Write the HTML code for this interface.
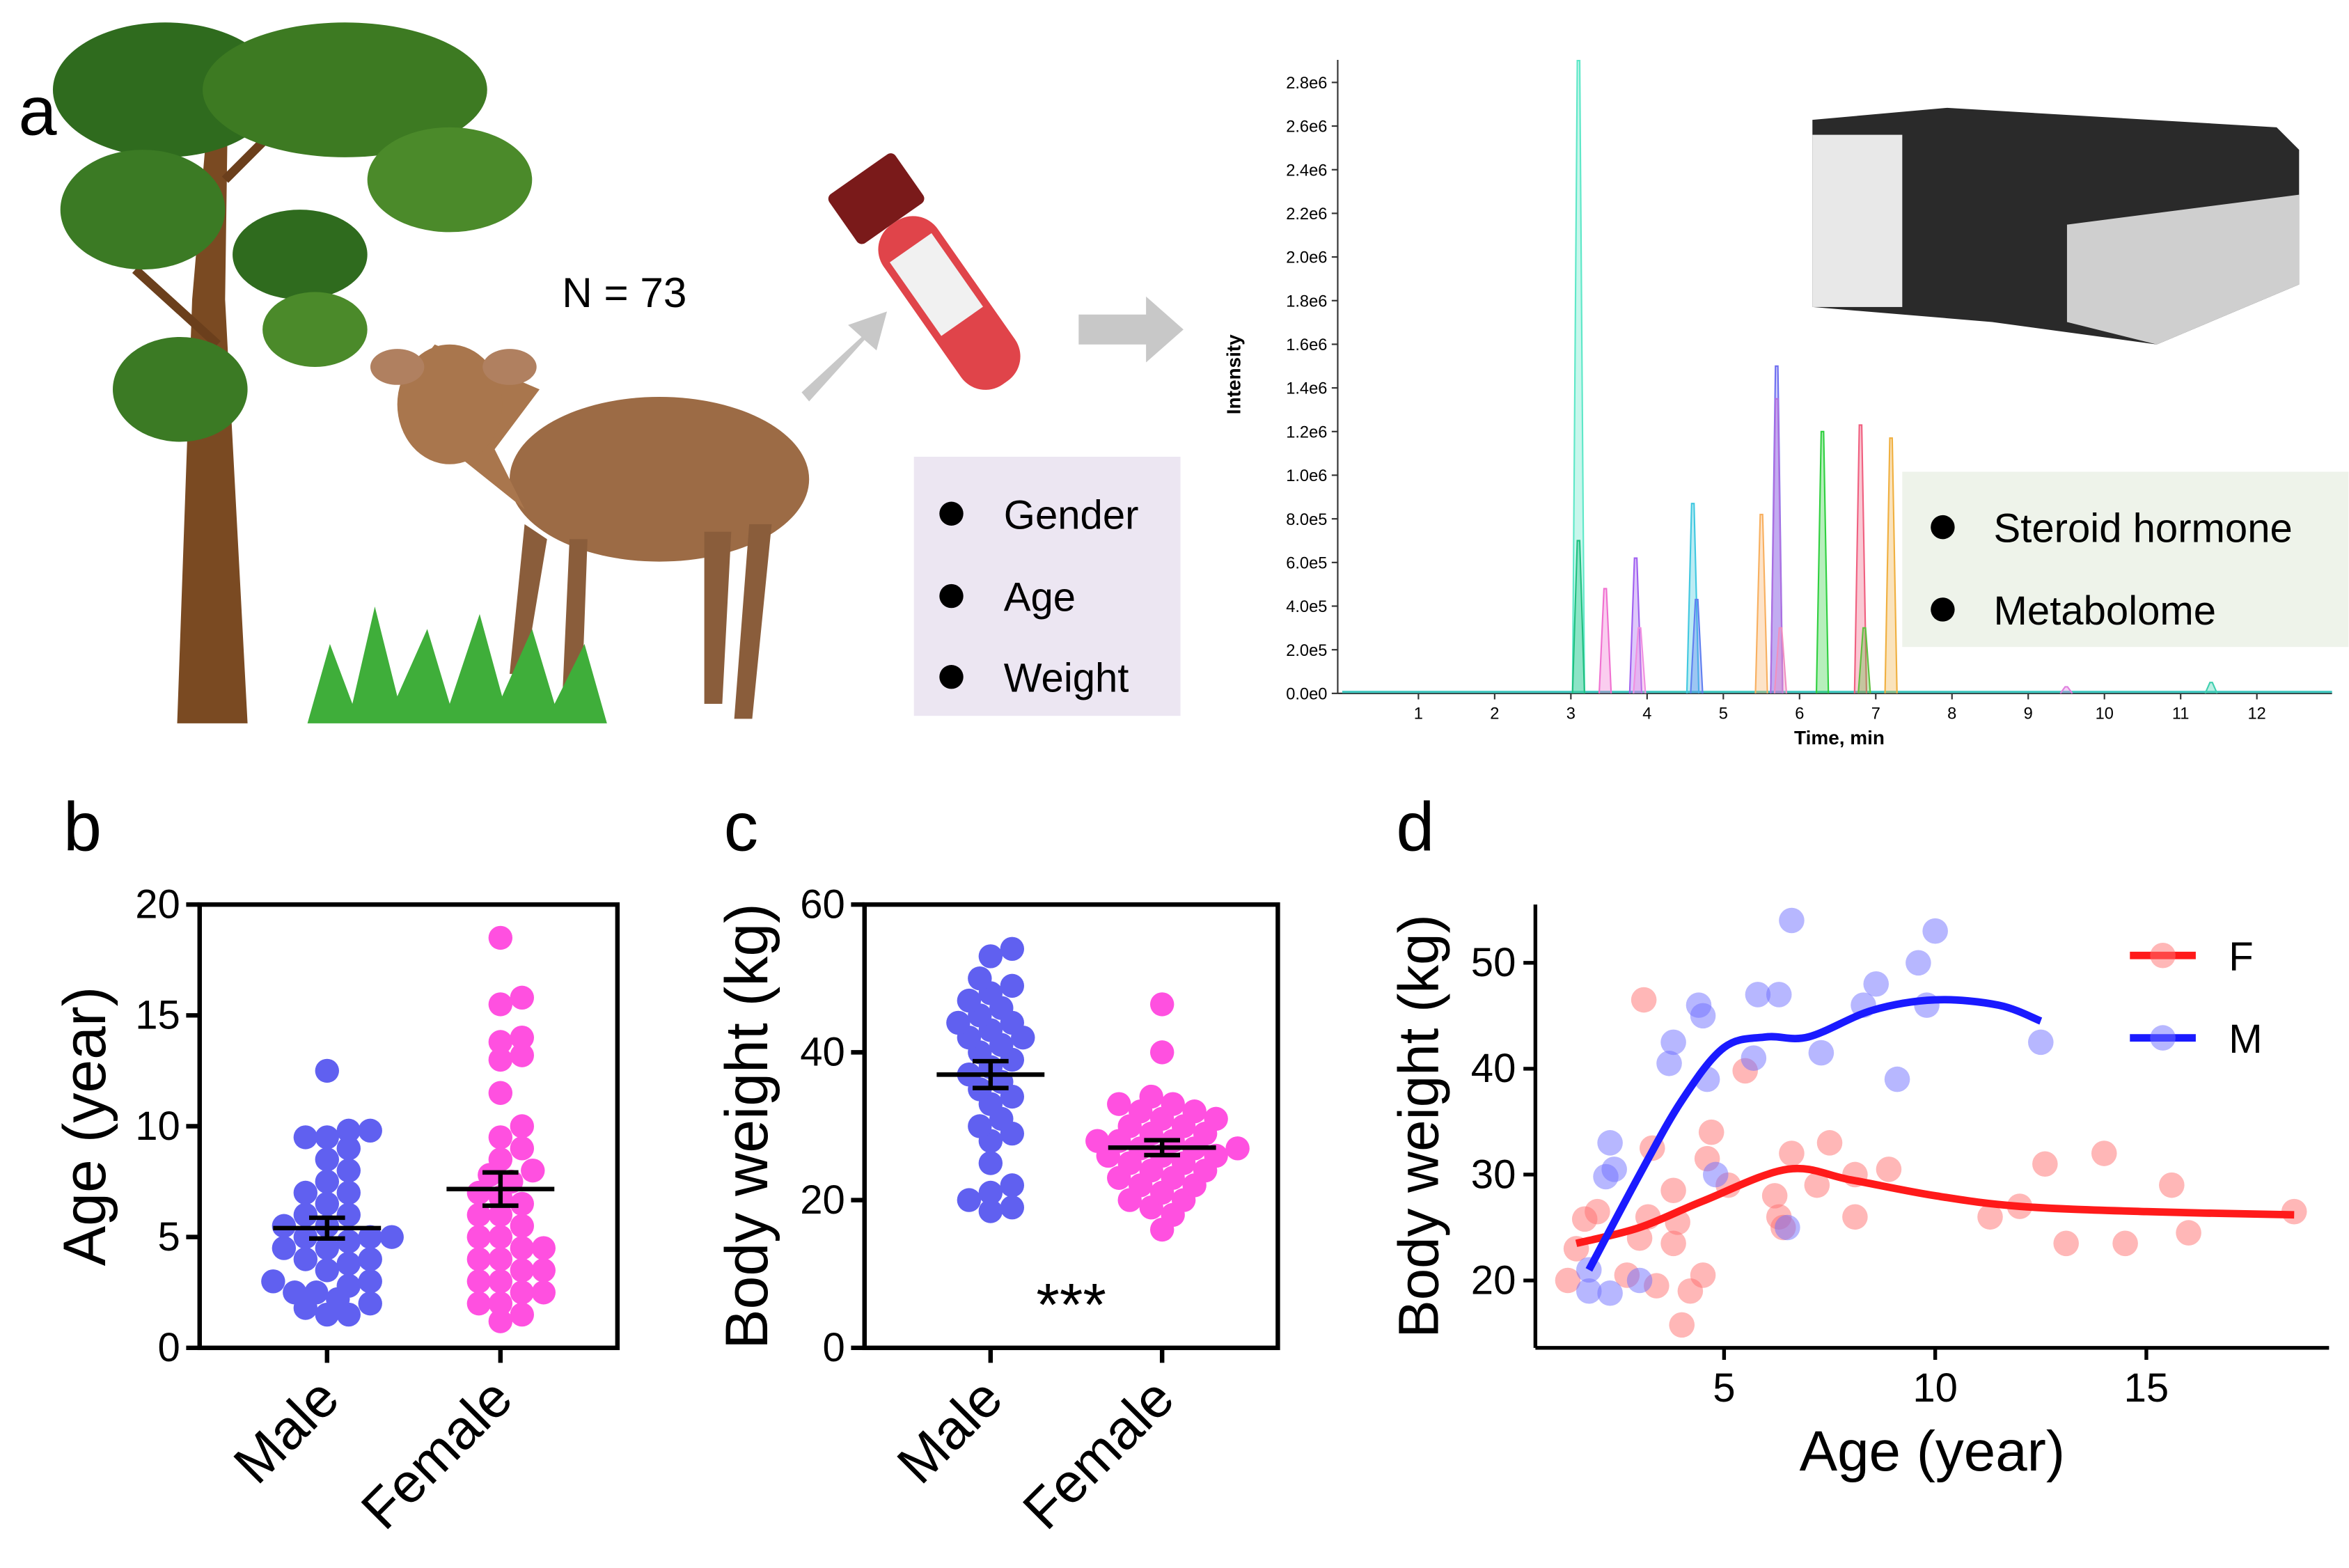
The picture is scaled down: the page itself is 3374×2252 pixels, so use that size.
<!DOCTYPE html>
<html><head><meta charset="utf-8"><style>
html,body{margin:0;padding:0;background:#fff}
svg{display:block;font-family:"Liberation Sans",Arial,sans-serif}
</style></head><body>
<svg id="fig" width="3374" height="2252" viewBox="0 0 1568 1047" xmlns="http://www.w3.org/2000/svg">
<rect width="1568" height="1047" fill="#fff"/>
<g>
<text x="12" y="90" font-size="46">a</text>
<g>
<path d="M118,483 L128,200 L140,60 L152,60 L150,200 L165,483 Z" fill="#7a4a22"/>
<path d="M140,160 L80,60 M150,120 L230,40 M145,230 L90,180" stroke="#6b3f1c" stroke-width="6"/>
<ellipse cx="110" cy="60" rx="75" ry="45" fill="#2f6b1e"/>
<ellipse cx="230" cy="60" rx="95" ry="45" fill="#3d7a22"/>
<ellipse cx="300" cy="120" rx="55" ry="35" fill="#4b8a2a"/>
<ellipse cx="95" cy="140" rx="55" ry="40" fill="#3b7a24"/>
<ellipse cx="200" cy="170" rx="45" ry="30" fill="#2f6b1e"/>
<ellipse cx="120" cy="260" rx="45" ry="35" fill="#3b7a24"/>
<ellipse cx="210" cy="220" rx="35" ry="25" fill="#4b8a2a"/>
</g>
<g>
<ellipse cx="440" cy="320" rx="100" ry="55" fill="#9c6b45"/>
<path d="M330,300 L360,260 L290,230 L270,255 L300,300 L350,340 Z" fill="#a9764d"/>
<ellipse cx="300" cy="270" rx="35" ry="40" fill="#a9764d"/>
<ellipse cx="265" cy="245" rx="18" ry="12" fill="#b08060"/>
<ellipse cx="340" cy="245" rx="18" ry="12" fill="#b08060"/>
<path d="M350,350 L340,450 L350,450 L365,360 Z M380,360 L375,470 L388,470 L392,360 Z M500,350 L490,480 L502,480 L515,350 Z M470,355 L470,470 L482,470 L488,355 Z" fill="#8a5d3b"/>
</g>
<g>
<path d="M205,483 L220,430 L235,470 L250,405 L265,465 L285,420 L300,470 L320,410 L335,465 L355,420 L370,470 L390,430 L405,483 Z" fill="#3fae3a"/>
</g>
<text x="375" y="205" font-size="28">N = 73</text>
<path d="M535,262 L575,225 L566,217 L592,208 L585,234 L577,227 L540,268 Z" fill="#c8c8c8"/>
<g transform="rotate(-35 625 190)">
<rect x="598" y="100" width="54" height="40" rx="4" fill="#7a1a1a"/>
<rect x="603" y="140" width="44" height="130" rx="20" fill="#e0444a"/>
<rect x="608" y="160" width="34" height="60" fill="#f1f1f1"/>
</g>
<path d="M720,210 L765,210 L765,198 L790,220 L765,242 L765,230 L720,230 Z" fill="#c8c8c8"/>
<rect x="610" y="305" width="178" height="173" fill="#ece6f2"/>
<g font-size="27">
<circle cx="635" cy="343" r="8"/><text x="670" y="353">Gender</text>
<circle cx="635" cy="398" r="8"/><text x="670" y="408">Age</text>
<circle cx="635" cy="452" r="8"/><text x="670" y="462">Weight</text>
</g>
<g>
<path d="M1210,80 L1300,72 L1520,85 L1535,100 L1535,190 L1440,230 L1330,215 L1210,205 Z" fill="#2a2a2a"/>
<rect x="1210" y="90" width="60" height="115" fill="#e8e8e8"/>
<path d="M1380,150 L1535,130 L1535,190 L1440,230 L1380,215 Z" fill="#cfcfcf"/>
</g>
<rect x="1270" y="315" width="298" height="117" fill="#eef3ea"/>
<g font-size="27">
<circle cx="1297" cy="352" r="8"/><text x="1331" y="362">Steroid hormone</text>
<circle cx="1297" cy="407" r="8"/><text x="1331" y="417">Metabolome</text>
</g>
<g id="chrom"></g>
</g>
<g>
<text x="42" y="568" font-size="46">b</text>
<g id="pb"></g>
</g>
<g>
<text x="483" y="568" font-size="46">c</text>
<g id="pc"></g>
</g>
<g>
<text x="932" y="568" font-size="46">d</text>
<g id="pd"></g>
</g>
</svg>
<script>
const chromTimes=[3.1,3.1,3.45,3.85,3.9,4.6,4.65,5.5,5.7,5.7,5.75,6.3,6.8,6.85,7.2,9.5,11.4];
const chromHeights=[2.9,0.7,0.48,0.62,0.3,0.87,0.43,0.82,1.5,1.35,0.3,1.2,1.23,0.3,1.17,0.03,0.05];
const chromColors=["#5fe8c8","#20c080","#f070d0","#a060f0","#f090e0","#40c8e0","#6080f0","#f8b060","#7070f0","#b070e0","#f090c0","#30d040","#f06080","#60c040","#f0b040","#e080e0","#40d0b0"];
const chromYTicks=["0.0e0","2.0e5","4.0e5","6.0e5","8.0e5","1.0e6","1.2e6","1.4e6","1.6e6","1.8e6","2.0e6","2.2e6","2.4e6","2.6e6","2.8e6"];
const chromXTicks=[1,2,3,4,5,6,7,8,9,10,11,12];
const ageMale=[12.5,9.8,9.8,9.5,9.5,9,8.5,8,7.5,7,7,6.5,6,6,5.5,5.5,5,5,5,4.8,4.5,4.5,4,4,3.8,3.5,3,3,2.8,2.5,2.5,2.2,2,1.8,1.5,1.5];
const ageFemale=[18.5,15.8,15.5,14,13.8,13.2,13,11.5,10,9.5,9,8.5,8,7.8,7.5,7,6.8,6.5,6,6,5.5,5,5,4.5,4.5,4,4,3.5,3.5,3,3,2.5,2.5,2,2,1.5,1.2];
const wMale=[54,53,50,49,48,47,46,45,44,44,43,42,42,41,40,39,38,37,36,35,34,33,31,30,29,28,25,22,21,20,19,18.5];
const wFemale=[46.5,40,34,33,33,32,32,31,31,30,30,29,29,28,28,28,27,27,27,26,26,26,25,25,24,24,23,23,22,22,21,20,20,19,18,16];
const dMaleAge=[1.8,1.8,2.3,2.2,2.4,2.3,3,3.7,3.8,4.4,4.5,4.6,4.8,5.8,5.7,6.3,6.6,6.5,7.3,8.3,8.6,9.1,9.6,9.8,10,12.5];
const dMaleW=[19,21,18.8,29.8,30.5,33,20,40.5,42.5,46,45,39,30,47,41,47,54,25,41.5,46,48,39,50,46,53,42.5];
const dFemAge=[1.3,1.5,1.7,2,3.1,3,3.2,3.4,2.7,3.3,3.8,3.8,3.9,4,4.2,4.5,4.6,4.7,5.1,5.5,6.2,6.3,6.6,6.4,7.2,7.5,8.1,8.1,8.9,11.3,12,12.6,13.1,14,14.5,15.6,16,18.5];
const dFemW=[20,23,25.8,26.5,46.5,24,26,19.5,20.5,32.5,28.5,23.5,25.5,15.8,19,20.5,31.5,34,29,39.8,28,26,32,25,29,33,26,30,30.5,26,27,31,23.5,32,23.5,29,24.5,26.5];
const fitFAge=[1.5,3,4.5,6.5,8,10,12,15,18.5];
const fitFW=[23.5,25,27.5,30.5,29.5,28,27,26.5,26.2];
const fitMAge=[1.8,3,4,5,6,7,8.5,10,11.5,12.5];
const fitMW=[21,30,37,42,43,43,45.5,46.5,46,44.5];

const NS="http://www.w3.org/2000/svg";
function mk(p,tag,at){const e=document.createElementNS(NS,tag);for(const k in at)e.setAttribute(k,at[k]);p.appendChild(e);return e;}
function mean(a){return a.reduce((s,v)=>s+v,0)/a.length;}
function sem(a){const m=mean(a);return Math.sqrt(a.reduce((s,v)=>s+(v-m)*(v-m),0)/(a.length-1))/Math.sqrt(a.length);}

(function(){
const g=document.getElementById('chrom');
const x=t=>896+t*50.9, y=v=>463-v/0.2*29.14;
let e=mk(g,'line',{x1:893,y1:40,x2:893,y2:463,stroke:'#333','stroke-width':1});

e=mk(g,'line',{x1:893,y1:463,x2:1557,y2:463,stroke:'#333','stroke-width':1});

chromYTicks.forEach((s,i)=>{const yy=y(i*0.2);
 mk(g,'line',{x1:889,y1:yy,x2:893,y2:yy,stroke:'#333'});
 const t=mk(g,'text',{x:886,y:yy+4,'font-size':11,'text-anchor':'end'});t.textContent=s;
 });
chromXTicks.forEach(v=>{const xx=x(v);
 mk(g,'line',{x1:xx,y1:463,x2:xx,y2:467,stroke:'#333'});
 const t=mk(g,'text',{x:xx,y:480,'font-size':11,'text-anchor':'middle'});t.textContent=v;
 });
let t=mk(g,'text',{x:1228,y:497,'font-size':13,'font-weight':'bold','text-anchor':'middle'});t.textContent='Time, min';

t=mk(g,'text',{x:828,y:250,'font-size':13,'font-weight':'bold','text-anchor':'middle',transform:'rotate(-90 828 250)'});t.textContent='Intensity';

mk(g,'line',{x1:896,y1:462,x2:1557,y2:462,stroke:'#40c8c0','stroke-width':1.5});
chromTimes.forEach((tm,i)=>{const xx=x(tm),yy=y(chromHeights[i]);
 const p=mk(g,'path',{d:`M${xx-4},463 L${xx-0.8},${yy} L${xx+0.8},${yy} L${xx+4},463`,fill:chromColors[i],'fill-opacity':0.35,stroke:chromColors[i],'stroke-width':1});
 });
})();

function dotPanel(id,box,ymax,ystep,groups,colors,title,extra,titleX){
 const g=document.getElementById(id);
 const [x0,y0,x1,y1]=box;
 const y=v=>y1-(v/ymax)*(y1-y0);
 let e=mk(g,'rect',{x:x0,y:y0,width:x1-x0,height:y1-y0,fill:'none',stroke:'#000','stroke-width':3});
 
 for(let v=0;v<=ymax;v+=ystep){const yy=y(v);
  mk(g,'line',{x1:x0-9,y1:yy,x2:x0,y2:yy,stroke:'#000','stroke-width':3});
  const t=mk(g,'text',{x:x0-13,y:yy+9,'font-size':27,'text-anchor':'end'});t.textContent=v;
  }
 const cx=[x0+(x1-x0)*0.305,x0+(x1-x0)*0.72];
 const names=['Male','Female'];
 groups.forEach((arr,gi)=>{
  mk(g,'line',{x1:cx[gi],y1:y1,x2:cx[gi],y2:y1+10,stroke:'#000','stroke-width':3});
  const t=mk(g,'text',{x:cx[gi]+10,y:y1+36,'font-size':37,'text-anchor':'end',transform:`rotate(-45 ${cx[gi]+10} ${y1+36})`});t.textContent=names[gi];
  
  const placed=[];const r=8;const md=r*1.35;
  [...arr].sort((a,b)=>a-b).forEach(v=>{const yy=y(v);let off=0;
   for(let k=0;k<40;k++){const cand=k===0?0:(k%2?1:-1)*Math.ceil(k/2)*r*0.9;
    if(placed.every(p=>(p[0]-cand)**2+(p[1]-yy)**2>=md*md)){off=cand;break;}}
   placed.push([off,yy]);
   const c=mk(g,'circle',{cx:cx[gi]+off,cy:yy,r:r,fill:colors[gi]});
   });
  const m=mean(arr),s=sem(arr);
  const ln=mk(g,'line',{x1:cx[gi]-36,y1:y(m),x2:cx[gi]+36,y2:y(m),stroke:'#000','stroke-width':3});
  
  mk(g,'line',{x1:cx[gi],y1:y(m+s),x2:cx[gi],y2:y(m-s),stroke:'#000','stroke-width':3});
  mk(g,'line',{x1:cx[gi]-12,y1:y(m+s),x2:cx[gi]+12,y2:y(m+s),stroke:'#000','stroke-width':3});
  mk(g,'line',{x1:cx[gi]-12,y1:y(m-s),x2:cx[gi]+12,y2:y(m-s),stroke:'#000','stroke-width':3});
 });
 const tx=titleX,ty=(y0+y1)/2;
 const t=mk(g,'text',{x:tx,y:ty,'font-size':40,'text-anchor':'middle',transform:`rotate(-90 ${tx} ${ty})`});t.textContent=title;
 
 if(extra){const s=mk(g,'text',{x:(x0+x1)/2,y:885,'font-size':40,'text-anchor':'middle'});s.textContent=extra;
  }
}
dotPanel('pb',[133,604,412,900],20,5,[ageMale,ageFemale],['#6060f0','#ff50e0'],'Age (year)',null,70);
dotPanel('pc',[577,604,853,900],60,20,[wMale,wFemale],['#6060f0','#ff50e0'],'Body weight (kg)','***',512);

(function(){
 const g=document.getElementById('pd');
 const x=v=>1151+(v-5)*28.2, y=v=>855-(v-20)*7.07;
 mk(g,'line',{x1:1025,y1:604,x2:1025,y2:900,stroke:'#000','stroke-width':2.5});
 mk(g,'line',{x1:1025,y1:900,x2:1555,y2:900,stroke:'#000','stroke-width':2.5});
 [20,30,40,50].forEach(v=>{mk(g,'line',{x1:1017,y1:y(v),x2:1025,y2:y(v),stroke:'#000','stroke-width':2.5});
  const t=mk(g,'text',{x:1012,y:y(v)+9,'font-size':27,'text-anchor':'end'});t.textContent=v;
  });
 [5,10,15].forEach(v=>{mk(g,'line',{x1:x(v),y1:900,x2:x(v),y2:908,stroke:'#000','stroke-width':2.5});
  const t=mk(g,'text',{x:x(v),y:936,'font-size':27,'text-anchor':'middle'});t.textContent=v;
  });
 let t=mk(g,'text',{x:1290,y:982,'font-size':38,'text-anchor':'middle'});t.textContent='Age (year)';
 
 t=mk(g,'text',{x:960,y:752,'font-size':38,'text-anchor':'middle',transform:'rotate(-90 960 752)'});t.textContent='Body weight (kg)';
 
 dFemAge.forEach((a,i)=>{const c=mk(g,'circle',{cx:x(a),cy:y(dFemW[i]),r:8.5,fill:'#ff7070','fill-opacity':0.5});
  });
 dMaleAge.forEach((a,i)=>{const c=mk(g,'circle',{cx:x(a),cy:y(dMaleW[i]),r:8.5,fill:'#7070ff','fill-opacity':0.5});
  });
 function smooth(ax,ay){const P=ax.map((a,i)=>[x(a),y(ay[i])]);let d=`M${P[0][0]},${P[0][1]}`;
  for(let i=0;i<P.length-1;i++){const p0=P[Math.max(0,i-1)],p1=P[i],p2=P[i+1],p3=P[Math.min(P.length-1,i+2)];
   d+=` C${p1[0]+(p2[0]-p0[0])/6},${p1[1]+(p2[1]-p0[1])/6} ${p2[0]-(p3[0]-p1[0])/6},${p2[1]-(p3[1]-p1[1])/6} ${p2[0]},${p2[1]}`;}
  return d;}
 let p=mk(g,'path',{d:smooth(fitFAge,fitFW),fill:'none',stroke:'#ff1a1a','stroke-width':5});
 
 p=mk(g,'path',{d:smooth(fitMAge,fitMW),fill:'none',stroke:'#1a1aff','stroke-width':5});
 
 [['F','#ff1a1a','#ff7070',638],['M','#1a1aff','#7070ff',693]].forEach(L=>{
  const lg=mk(g,'g',{});
  mk(lg,'line',{x1:1422,y1:L[3],x2:1466,y2:L[3],stroke:L[1],'stroke-width':5});
  mk(lg,'circle',{cx:1444,cy:L[3],r:8.5,fill:L[2],'fill-opacity':0.5});
  const tt=mk(lg,'text',{x:1488,y:L[3]+10,'font-size':27});tt.textContent=L[0];});
})();
</script>
</body></html>
